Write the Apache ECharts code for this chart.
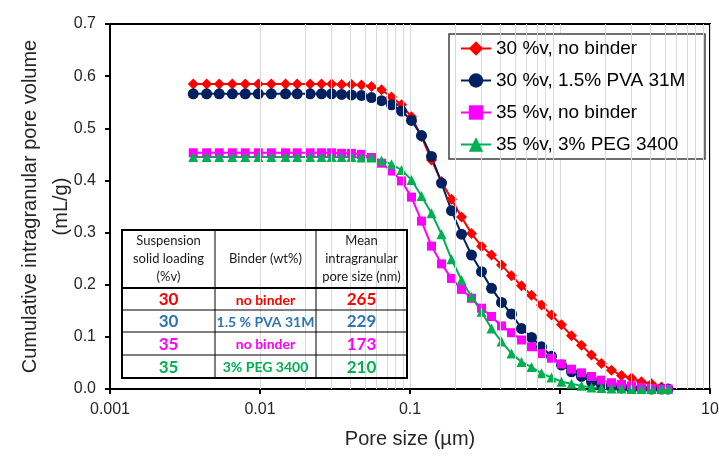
<!DOCTYPE html>
<html>
<head>
<meta charset="utf-8">
<script src="https://cdn.jsdelivr.net/npm/echarts@6/dist/echarts.min.js"></script>
<style>
html,body{margin:0;padding:0;background:#fff;}
#chart{width:719px;height:456px;}
</style>
</head>
<body>
<div id="chart"></div>
<script>
// ---- data ----
const poreSize = [0.00359, 0.00441, 0.00535, 0.00654, 0.00798, 0.00975, 0.0119, 0.0148, 0.0177, 0.0216,
  0.0257, 0.0300, 0.0350, 0.0407, 0.0475, 0.0554, 0.0646, 0.0753, 0.0878, 0.1023,
  0.1193, 0.1391, 0.1622, 0.1891, 0.2205, 0.2570, 0.2997, 0.3494, 0.4074, 0.4750,
  0.5538, 0.6457, 0.7528, 0.8777, 1.023, 1.193, 1.391, 1.622, 1.891, 2.205,
  2.570, 2.997, 3.494, 4.074, 4.750, 5.248];

const red30NoBinder = [0.585, 0.585, 0.585, 0.585, 0.585, 0.585, 0.585, 0.585, 0.585, 0.585,
  0.585, 0.585, 0.584, 0.584, 0.583, 0.580, 0.574, 0.560, 0.545, 0.522,
  0.484, 0.439, 0.398, 0.364, 0.330, 0.298, 0.274, 0.257, 0.238, 0.217,
  0.198, 0.180, 0.161, 0.142, 0.123, 0.102, 0.084, 0.065, 0.049, 0.036,
  0.026, 0.021, 0.014, 0.010, 0.004, 0.000];

const navy30PVA = [0.566, 0.566, 0.566, 0.566, 0.566, 0.566, 0.566, 0.566, 0.566, 0.566,
  0.566, 0.566, 0.565, 0.564, 0.563, 0.559, 0.553, 0.545, 0.533, 0.515,
  0.486, 0.446, 0.395, 0.342, 0.297, 0.257, 0.225, 0.193, 0.166, 0.144,
  0.116, 0.099, 0.081, 0.063, 0.046, 0.033, 0.024, 0.014, 0.008, 0.004,
  0.002, 0.001, 0.001, 0.000, 0.000, 0.000];

const magenta35NoBinder = [0.453, 0.453, 0.453, 0.453, 0.453, 0.453, 0.453, 0.453, 0.453, 0.453,
  0.453, 0.453, 0.452, 0.452, 0.450, 0.444, 0.433, 0.418, 0.399, 0.368,
  0.322, 0.274, 0.240, 0.212, 0.191, 0.174, 0.155, 0.139, 0.121, 0.108,
  0.094, 0.081, 0.068, 0.059, 0.048, 0.038, 0.031, 0.024, 0.017, 0.012,
  0.009, 0.006, 0.003, 0.001, 0.000, 0.000];

const green35PEG = [0.445, 0.445, 0.445, 0.445, 0.445, 0.445, 0.445, 0.445, 0.445, 0.445,
  0.445, 0.445, 0.445, 0.445, 0.444, 0.444, 0.438, 0.431, 0.420, 0.401,
  0.370, 0.337, 0.297, 0.249, 0.209, 0.177, 0.148, 0.116, 0.091, 0.068,
  0.052, 0.042, 0.030, 0.022, 0.014, 0.010, 0.006, 0.003, 0.002, 0.001,
  0.001, 0.000, 0.000, 0.000, 0.000, 0.000];

const seriesNames = ['30 %v, no binder', '30 %v, 1.5% PVA 31M', '35 %v, no binder', '35 %v, 3% PEG 3400'];
const xTickLabels = ['0.001', '0.01', '0.1', '1', '10'];
const yTickLabels = ['0.0', '0.1', '0.2', '0.3', '0.4', '0.5', '0.6', '0.7'];
const minorGridValues = [0.002, 0.003, 0.004, 0.005, 0.006, 0.007, 0.008, 0.009,
  0.02, 0.03, 0.04, 0.05, 0.06, 0.07, 0.08, 0.09,
  0.2, 0.3, 0.4, 0.5, 0.6, 0.7, 0.8, 0.9,
  2, 3, 4, 5, 6, 7, 8, 9];

const tableHeader = ['Suspension\nsolid loading\n(%v)', 'Binder (wt%)', 'Mean\nintragranular\npore size (nm)'];
const tableLoading = ['30', '30', '35', '35'];
const tableBinder = ['no binder', '1.5 % PVA 31M', 'no binder', '3% PEG 3400'];
const tableMeanPore = ['265', '229', '173', '210'];

// ---- styles ----
const FONT = "'Liberation Sans', Arial, sans-serif";
const TFONT = "Lato, 'Open Sans', sans-serif";
const colors = ['#ff0000', '#002060', '#ff00ff', '#00b050'];
const tableColors = ['#ff0000', '#2e75b6', '#ff00ff', '#00b050'];
const symbols = ['diamond', 'circle', 'rect', 'triangle'];
const symbolSizes = [11, 11, 9, 10];
const seriesData = [red30NoBinder, navy30PVA, magenta35NoBinder, green35PEG];

// ---- table graphic ----
const tX = [122, 215, 316, 407];
const tY = [230, 288, 310, 332, 355, 378];
const graphics = [];
// legend frame
graphics.push({type: 'rect', z: 3, shape: {x: 449, y: 34, width: 256, height: 125},
  style: {fill: '#fff', stroke: '#404040', lineWidth: 1.5}});
// table background
graphics.push({type: 'rect', z: 5, shape: {x: tX[0], y: tY[0], width: tX[3] - tX[0], height: tY[5] - tY[0]},
  style: {fill: '#fff', stroke: null}});
// inner horizontal lines
for (let r = 1; r < tY.length - 1; r++) {
  graphics.push({type: 'line', z: 6, shape: {x1: tX[0], y1: tY[r], x2: tX[3], y2: tY[r]},
    style: {stroke: '#000', lineWidth: r === 1 ? 2 : 1}});
}
// inner vertical lines
for (let c = 1; c < tX.length - 1; c++) {
  graphics.push({type: 'line', z: 6, shape: {x1: tX[c], y1: tY[0], x2: tX[c], y2: tY[5]},
    style: {stroke: '#000', lineWidth: 1}});
}
// outer border
graphics.push({type: 'rect', z: 7, shape: {x: tX[0], y: tY[0], width: tX[3] - tX[0], height: tY[5] - tY[0]},
  style: {fill: null, stroke: '#000', lineWidth: 2}});
// header texts
for (let c = 0; c < 3; c++) {
  graphics.push({type: 'text', z: 8, x: (tX[c] + tX[c + 1]) / 2, y: (tY[0] + tY[1]) / 2,
    style: {text: tableHeader[c], fill: '#1a1a1a', font: '13px ' + TFONT, lineHeight: 18,
      textAlign: 'center', textVerticalAlign: 'middle', align: 'center', verticalAlign: 'middle'}});
}
// body texts
const cols = [tableLoading, tableBinder, tableMeanPore];
for (let r = 0; r < 4; r++) {
  for (let c = 0; c < 3; c++) {
    const fs = c === 1 ? 14 : 17;
    graphics.push({type: 'text', z: 8, x: (tX[c] + tX[c + 1]) / 2, y: (tY[r + 1] + tY[r + 2]) / 2 + 1,
      style: {text: cols[c][r], fill: tableColors[r], font: 'bold ' + fs + 'px ' + TFONT,
        textAlign: 'center', textVerticalAlign: 'middle', align: 'center', verticalAlign: 'middle'}});
  }
}

const series = seriesData.map((vals, i) => ({
  name: seriesNames[i],
  type: 'line',
  z: 3,
  data: poreSize.map((x, j) => [x, vals[j]]),
  symbol: symbols[i],
  symbolSize: symbolSizes[i],
  showSymbol: true,
  color: colors[i],
  itemStyle: {color: colors[i], borderWidth: 0},
  lineStyle: {color: colors[i], width: 2},
  emphasis: {disabled: true},
  animation: false
}));

// helper series for minor vertical gridlines
series.unshift({
  name: 'grid-minor',
  type: 'line',
  z: 1,
  data: [[poreSize[0], 0]],
  showSymbol: false,
  symbol: 'none',
  lineStyle: {opacity: 0},
  silent: true,
  animation: false,
  markLine: {
    silent: true,
    symbol: ['none', 'none'],
    label: {show: false},
    lineStyle: {color: '#d9d9d9', width: 1, type: 'solid'},
    emphasis: {disabled: true},
    data: minorGridValues.map(v => ({xAxis: v}))
  }
});

const chart = echarts.init(document.getElementById('chart'), null, {renderer: 'canvas'});
chart.setOption({
  animation: false,
  backgroundColor: '#fff',
  grid: {left: 110, right: 9, top: 24, bottom: 67, show: true, borderColor: '#000', borderWidth: 2,
    backgroundColor: '#fff', containLabel: false, outerBoundsMode: 'none'},
  legend: {
    data: seriesNames,
    orient: 'vertical',
    left: 460,
    top: 39,
    padding: 0,
    itemWidth: 30,
    itemHeight: 18,
    itemGap: 13,
    z: 10,
    textStyle: {fontFamily: FONT, fontSize: 19, color: '#000', lineHeight: 18},
    selectedMode: false
  },
  xAxis: {
    type: 'log',
    logBase: 10,
    min: 0.001,
    max: 10,
    name: 'Pore size (µm)',
    nameLocation: 'middle',
    nameGap: 40,
    nameMoveOverlap: false,
    nameTextStyle: {fontFamily: FONT, fontSize: 20, color: '#262626'},
    axisLine: {show: true, onZero: false, lineStyle: {color: '#000', width: 2}},
    axisTick: {show: true, length: 5, lineStyle: {color: '#000', width: 2}},
    axisLabel: {fontFamily: FONT, fontSize: 16, color: '#262626', margin: 13,
      formatter: v => xTickLabels[Math.round(Math.log10(v)) + 3]},
    splitLine: {show: true, lineStyle: {color: '#d9d9d9', width: 1}},
    minorTick: {show: false},
    minorSplitLine: {show: false}
  },
  yAxis: {
    type: 'value',
    min: 0,
    max: 0.7,
    interval: 0.1,
    name: 'Cumulative intragranular pore volume\n(mL/g)',
    nameLocation: 'middle',
    nameGap: 33,
    nameMoveOverlap: false,
    nameTextStyle: {fontFamily: FONT, fontSize: 20, color: '#262626', lineHeight: 31},
    axisLine: {show: true, lineStyle: {color: '#000', width: 2}},
    axisTick: {show: true, length: 5, lineStyle: {color: '#000', width: 2}},
    axisLabel: {fontFamily: FONT, fontSize: 16, color: '#262626', margin: 14,
      formatter: v => yTickLabels[Math.round(v * 10)]},
    splitLine: {show: false}
  },
  graphic: {elements: graphics},
  series: series
});
</script>
</body>
</html>
